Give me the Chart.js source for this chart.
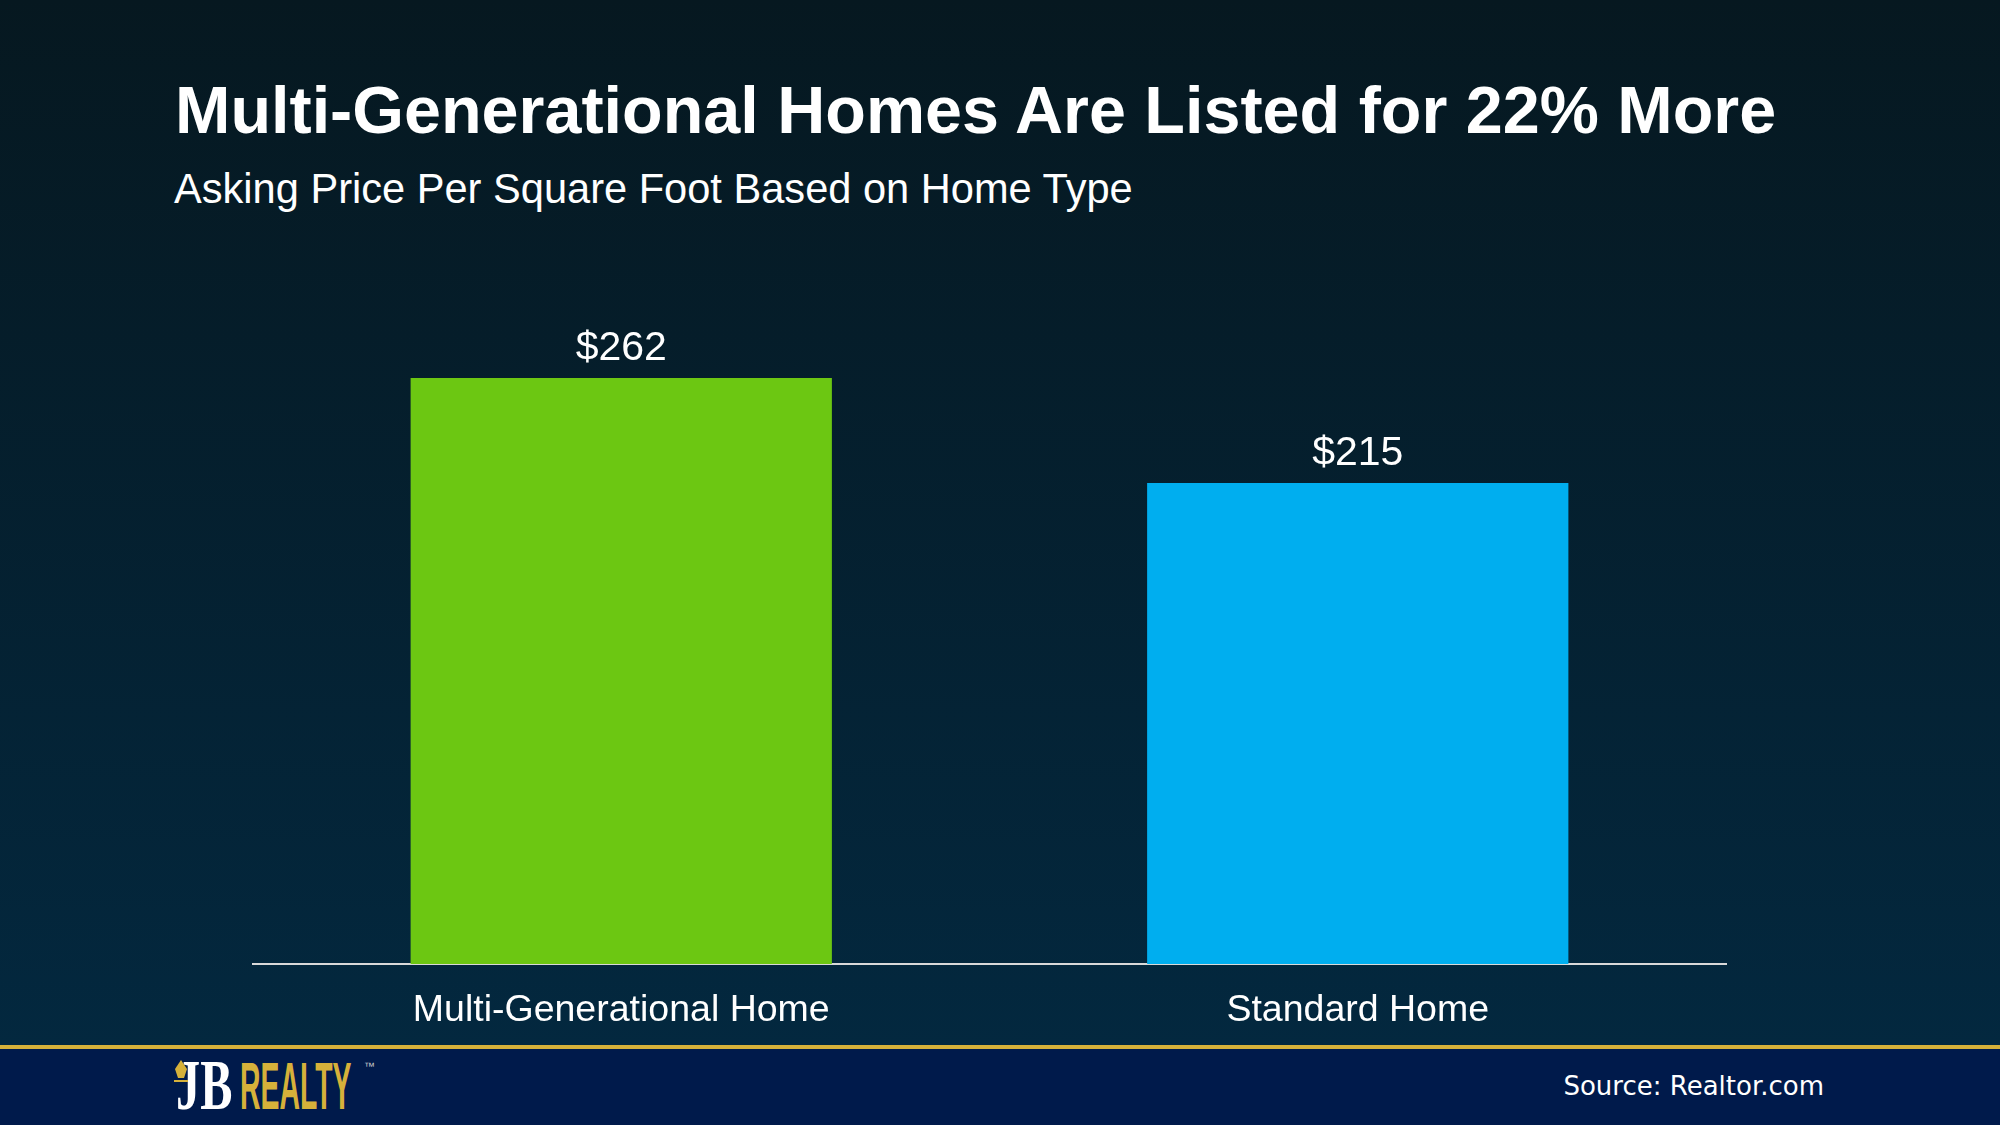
<!DOCTYPE html>
<html>
<head>
<meta charset="utf-8">
<script src="https://cdn.jsdelivr.net/npm/chart.js@4.4.0/dist/chart.umd.min.js"></script>
<style>
    html, body { margin: 0; padding: 0; }
    body {
        width: 2000px;
        height: 1125px;
        position: relative;
        overflow: hidden;
        background: linear-gradient(to bottom, #061820 0%, #03283f 93%);
        font-family: 'Liberation Sans', Arial, sans-serif;
        color: #ffffff;
    }
    .title {
        position: absolute; left: 175px; top: 77px;
        font-size: 66.5px; line-height: 66px; font-weight: bold; white-space: nowrap;
    }
    .subtitle {
        position: absolute; left: 174px; top: 168px;
        font-size: 41.6px; line-height: 41px; white-space: nowrap;
    }
    .chart-box { position: absolute; left: 0; top: 0; width: 2000px; height: 1065px; }
    .footer {
        position: absolute; left: 0; top: 1045px; width: 2000px; height: 80px;
        background: #001a4b; border-top: 4px solid #d6b13a; box-sizing: border-box;
    }
    .logo-jb {
        position: absolute; left: 176px; top: 1050px;
        font-family: 'Liberation Serif', serif; font-weight: bold;
        font-size: 71px; line-height: 71px; color: #ffffff;
        transform: scaleX(0.68); transform-origin: left top; white-space: nowrap;
    }
    .logo-realty {
        position: absolute; left: 240px; top: 1053px;
        font-size: 66px; line-height: 66px; color: #d6b13a; font-weight: bold;
        transform: scaleX(0.43); transform-origin: left top; white-space: nowrap;
    }
    .logo-tm {
        position: absolute; left: 364px; top: 1061px;
        font-size: 11px; line-height: 11px; color: #cfcfcf;
    }
    .nib { position: absolute; left: 174px; top: 1060px; }
    .source {
        position: absolute; right: 176px; top: 1073px;
        font-family: 'DejaVu Sans', sans-serif; font-size: 26px; line-height: 26px;
        color: #ffffff; white-space: nowrap;
    }
</style>
</head>
<body>
<div class="title">Multi-Generational Homes Are Listed for 22% More</div>
<div class="subtitle">Asking Price Per Square Foot Based on Home Type</div>

<div class="chart-box"><canvas id="priceChart"></canvas></div>

<div class="footer"></div>
<div class="logo-jb">JB</div>
<svg class="nib" width="14" height="26" viewBox="0 0 14 26">
    <path d="M7 0 L13 9 L10 18 L4 18 L1 9 Z" fill="#d6b13a"/>
    <rect x="0" y="20" width="14" height="2" fill="#d6b13a"/>
</svg>
<div class="logo-realty">REALTY</div>
<div class="logo-tm">™</div>
<div class="source">Source: Realtor.com</div>

<script>
// Data
const homeTypes = ['Multi-Generational Home', 'Standard Home'];
const pricePerSqFt = [262, 215];
const barColors = ['#6cc712', '#00aeef'];

Chart.defaults.font.family = "'Liberation Sans', Arial, sans-serif";
Chart.defaults.color = '#ffffff';
Chart.defaults.animation = false;

// Labels "$262" au-dessus des barres
const valueLabels = {
    id: 'valueLabels',
    afterDatasetsDraw(chart) {
        const ctx = chart.ctx;
        const meta = chart.getDatasetMeta(0);
        ctx.save();
        ctx.font = "41px 'Liberation Sans', Arial, sans-serif";
        ctx.fillStyle = '#ffffff';
        ctx.textAlign = 'center';
        ctx.textBaseline = 'alphabetic';
        meta.data.forEach((bar, i) => {
            ctx.fillText('$' + pricePerSqFt[i], bar.x, bar.y - 18);
        });
        ctx.restore();
    }
};

const ctx = document.getElementById('priceChart').getContext('2d');
const priceChart = new Chart(ctx, {
    type: 'bar',
    data: {
        labels: homeTypes,
        datasets: [{
            data: pricePerSqFt,
            backgroundColor: barColors,
            borderWidth: 0,
            categoryPercentage: 1,
            barPercentage: 0.572
        }]
    },
    options: {
        responsive: true,
        maintainAspectRatio: false,
        devicePixelRatio: 1,
        layout: { padding: { left: 253, right: 274, top: 293, bottom: 8 } },
        plugins: {
            legend: { display: false },
            tooltip: { enabled: false }
        },
        scales: {
            y: { display: false, min: 0, max: 300 },
            x: {
                grid: { display: false, drawTicks: false },
                border: { display: true, color: '#d9d9d9', width: 2 },
                ticks: { color: '#ffffff', font: { size: 37.5 }, padding: 24 }
            }
        }
    },
    plugins: [valueLabels]
});
</script>
</body>
</html>
